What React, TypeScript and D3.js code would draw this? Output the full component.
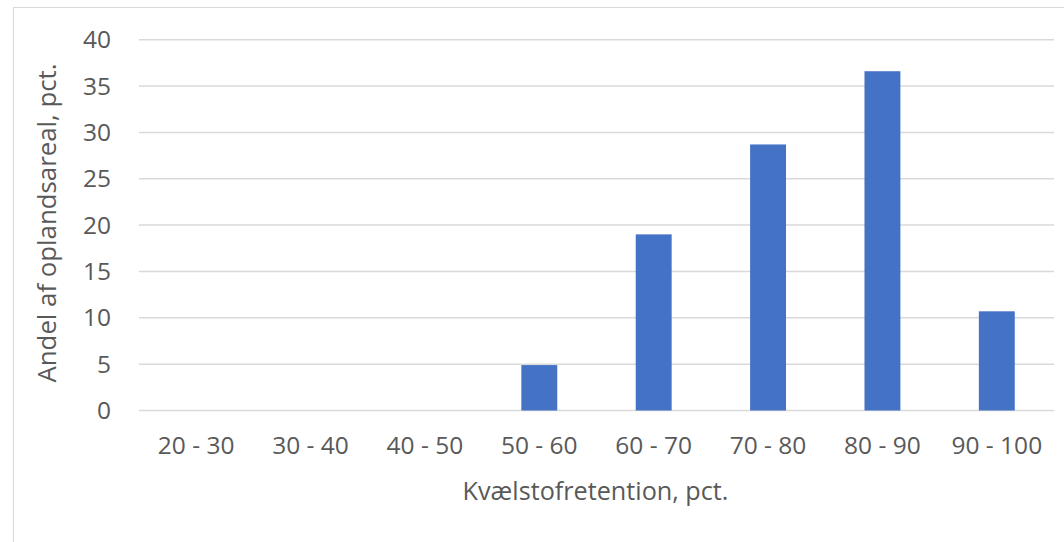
import React from "react";
import * as d3 from "d3";

const categories = ["20 - 30", "30 - 40", "40 - 50", "50 - 60", "60 - 70", "70 - 80", "80 - 90", "90 - 100"];
const shares = [0, 0, 0, 4.9, 19.0, 28.7, 36.6, 10.7];
const yTicks = [0, 5, 10, 15, 20, 25, 30, 35, 40];

const W = 1064;
const H = 542;
const plot = { left: 139, right: 1054, top: 39.7, bottom: 410.5 };
const font = "'Open Sans', sans-serif";
const fontSize = 24.5;
const textColor = "#595959";

export default function App() {
  const x = d3
    .scaleBand<string>()
    .domain(categories)
    .range([plot.left, plot.right])
    .paddingInner(0.686)
    .paddingOuter(0.343);
  const y = d3.scaleLinear().domain([0, 40]).range([plot.bottom, plot.top]);

  return (
    <svg
      width={W}
      height={H}
      style={{ position: "absolute", left: 0, top: 0, background: "#fff" }}
      fontFamily={font}
    >
      <rect x={13.5} y={7.5} width={W + 20} height={H + 20} fill="#fff" stroke="#d9d9d9" strokeWidth={1} />
      {yTicks.map((t) => (
        <g key={t}>
          <line x1={plot.left} x2={plot.right} y1={y(t)} y2={y(t)} stroke="#d9d9d9" strokeWidth={1.5} />
          <text x={111} y={y(t)} dy="0.35em" textAnchor="end" fontSize={fontSize} fill={textColor}>
            {t}
          </text>
        </g>
      ))}
      {categories.map((c, i) => (
        <g key={c}>
          <rect
            x={x(c)}
            y={y(shares[i])}
            width={x.bandwidth()}
            height={plot.bottom - y(shares[i])}
            fill="#4472C4"
          />
          <text
            x={(x(c) as number) + x.bandwidth() / 2}
            y={445.5}
            dy="0.35em"
            textAnchor="middle"
            fontSize={fontSize}
            fill={textColor}
          >
            {c}
          </text>
        </g>
      ))}
      <text x={595.5} y={491} dy="0.35em" textAnchor="middle" fontSize={25.2} fill={textColor}>
        Kvælstofretention, pct.
      </text>
      <text
        transform="translate(47, 223) rotate(-90)"
        dy="0.35em"
        textAnchor="middle"
        fontSize={25.8}
        fill={textColor}
      >
        Andel af oplandsareal, pct.
      </text>
    </svg>
  );
}
